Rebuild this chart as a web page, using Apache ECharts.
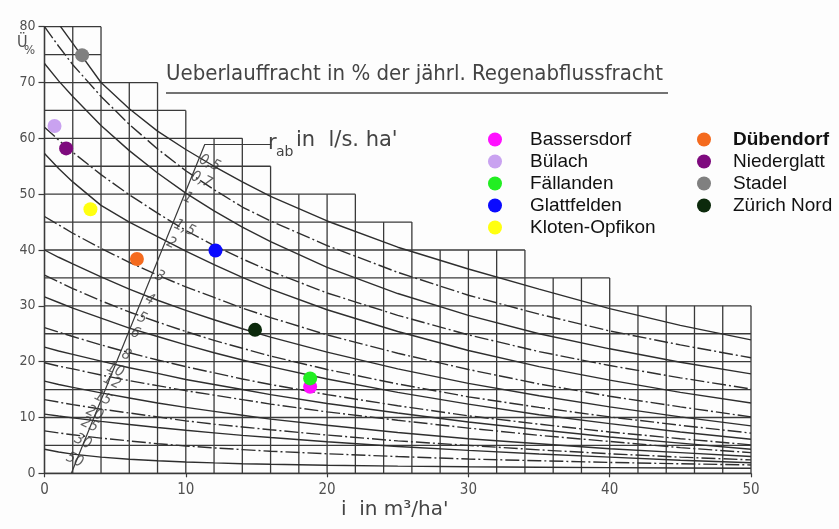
<!DOCTYPE html>
<html>
<head>
<meta charset="utf-8">
<script src="https://cdn.jsdelivr.net/npm/echarts@6/dist/echarts.min.js"></script>
<style>
html,body{margin:0;padding:0;background:#fdfdfd;}
#chart{width:839px;height:529px;}
</style>
</head>
<body>
<div id="chart"></div>
<script>
// Storage volume i (m3/ha') at which every curve is sampled
const iValues = [0, 1, 2, 4, 6, 8, 10, 12, 14, 16, 20, 25, 30, 35, 40, 45, 50];

// Overflow load Ü (%) for each throttled outflow r_ab (l/s.ha')
const curve_0_5 = [84, 80.5, 77, 70, 65.3, 61.3, 58, 55, 52.2, 49.6, 45.2, 40.5, 36.6, 33, 29.5, 26.5, 23.9];
const curve_0_7 = [80, 76.5, 73.2, 67.5, 62.5, 58.1, 54.2, 50.8, 47.7, 45.2, 40.8, 36, 31.9, 28.5, 25.5, 23, 20.7];
const curve_1   = [73.4, 70.3, 67.5, 62.3, 57.8, 53.8, 50.2, 47.0, 44.1, 41.5, 36.9, 32.2, 28.3, 25.0, 22.3, 19.9, 17.8];
const curve_1_5 = [62, 59.7, 57.5, 53.5, 49.9, 46.6, 43.5, 40.8, 38.4, 36.2, 32.3, 28.3, 24.8, 21.8, 19.3, 17.1, 15.1];
const curve_2   = [57.3, 54.6, 52.2, 48, 45, 42.4, 39.8, 37.4, 35.1, 33.0, 29.3, 25.4, 22.0, 19.1, 16.7, 14.5, 12.6];
const curve_3   = [46, 44.5, 43.0, 40.3, 37.8, 35.5, 33.4, 31.5, 29.6, 27.9, 24.8, 21.5, 18.6, 16.0, 13.8, 11.9, 10.1];
const curve_4   = [40, 38.7, 37.5, 35.2, 33.0, 31.0, 29.2, 27.5, 25.9, 24.4, 21.7, 18.7, 16.1, 13.9, 11.9, 10.1, 8.5];
const curve_5   = [35.5, 34.3, 33.1, 30.9, 28.9, 27.1, 25.4, 23.8, 22.4, 21.0, 18.6, 16.0, 13.7, 11.8, 10.1, 8.6, 7.2];
const curve_6   = [31.6, 30.6, 29.6, 27.8, 26.0, 24.5, 23.0, 21.6, 20.3, 19.1, 16.9, 14.5, 12.4, 10.5, 8.9, 7.4, 6.1];
const curve_8   = [26.1, 25.3, 24.5, 23.0, 21.6, 20.3, 19.1, 18.0, 16.9, 15.9, 14.1, 12.1, 10.3, 8.8, 7.4, 6.2, 5.1];
const curve_10  = [22.6, 21.9, 21.3, 20.1, 18.9, 17.9, 16.8, 15.9, 15.0, 14.1, 12.5, 10.8, 9.2, 7.8, 6.5, 5.4, 4.3];
const curve_12  = [19.8, 19.2, 18.7, 17.6, 16.6, 15.7, 14.8, 14.0, 13.2, 12.4, 11.0, 9.5, 8.1, 6.8, 5.7, 4.6, 3.7];
const curve_15  = [16.5, 15.9, 15.4, 14.4, 13.5, 12.6, 11.8, 11.1, 10.4, 9.7, 8.6, 7.3, 6.2, 5.3, 4.4, 3.7, 3.0];
const curve_20  = [13.2, 12.75, 12.3, 11.5, 10.8, 10.1, 9.4, 8.8, 8.3, 7.8, 6.85, 5.8, 5.0, 4.2, 3.5, 2.9, 2.4];
const curve_25  = [10.6, 10.26, 9.93, 9.3, 8.75, 8.2, 7.7, 7.25, 6.8, 6.4, 5.65, 4.8, 4.1, 3.45, 2.9, 2.35, 1.9];
const curve_30  = [7.6, 7.23, 6.9, 6.3, 5.8, 5.3, 4.9, 4.55, 4.25, 3.95, 3.5, 3.0, 2.55, 2.25, 1.95, 1.7, 1.5];
const curve_50  = [4.3, 3.82, 3.44, 2.89, 2.51, 2.24, 2.02, 1.86, 1.72, 1.61, 1.43, 1.28, 1.16, 1.08, 1.01, 0.95, 0.9];

const rabLabels = ['0,5', '0,7', '1', '1,5', '2', '3', '4', '5', '6', '8', '10', '12', '15', '20', '25', '30', '50'];
const rabCurves = [curve_0_5, curve_0_7, curve_1, curve_1_5, curve_2, curve_3, curve_4, curve_5, curve_6,
                   curve_8, curve_10, curve_12, curve_15, curve_20, curve_25, curve_30, curve_50];

// Where each r_ab figure sits along the oblique scale line
const rabLabelI = [11.69, 11.10, 10.16, 9.92, 8.97, 8.15, 7.45, 6.90, 6.43, 5.79, 5.01, 4.78, 4.14, 3.55, 3.20, 2.72, 2.14];
const rabLabelU = [55.56, 52.56, 49.28, 43.91, 41.22, 35.23, 31.06, 27.78, 25.09, 21.20, 18.51, 16.42, 13.44, 10.75, 8.66, 5.66, 2.38];

// Oblique r_ab scale line with its leader to the caption
const rabScaleLine = [[1.9, 0], [11.34, 58.9], [16.05, 58.9]];

// Stepped outline of the chart grid: column edges and their heights
const stepEdges = [0, 4, 8, 10, 14, 16, 22, 26, 34, 40, 50];
const stepTops  = [80, 70, 65, 60, 55, 50, 45, 40, 35, 30];

// Overflow structures in the Glatt catchment
const siteNames  = ['Bassersdorf', 'Bülach', 'Fällanden', 'Glattfelden', 'Kloten-Opfikon', 'Dübendorf', 'Niederglatt', 'Stadel', 'Zürich Nord'];
const siteI      = [18.8, 0.71, 18.8, 12.1, 3.25, 6.54, 1.53, 2.66, 14.9];
const siteU      = [15.5, 62.2, 17.0, 39.9, 47.3, 38.4, 58.2, 74.9, 25.7];
const siteColors = ['#ff10ff', '#c9a2f0', '#22ee22', '#0a0aff', '#ffff10', '#f46a1e', '#7e0a7e', '#808080', '#0c2a0c'];

const ink = '#3a3a3a';

function topAt(x) {
  let t = 0;
  for (let k = 0; k < stepTops.length; k++) {
    if (x >= stepEdges[k] - 1e-9 && x <= stepEdges[k + 1] + 1e-9) t = Math.max(t, stepTops[k]);
  }
  return t;
}
function reachAt(y) {
  let r = 0;
  for (let k = 0; k < stepTops.length; k++) if (stepTops[k] >= y) r = stepEdges[k + 1];
  return r;
}

const series = [];

// stepped grid
series.push({
  type: 'custom',
  silent: true,
  z: 1,
  data: [0],
  renderItem: function (params, api) {
    const children = [];
    const style = { stroke: ink, lineWidth: 1.3 };
    for (let x = 0; x <= 50; x += 2) {
      const a = api.coord([x, 0]), b = api.coord([x, topAt(x)]);
      children.push({ type: 'line', shape: { x1: a[0], y1: a[1], x2: b[0], y2: b[1] }, style: style });
    }
    for (let y = 0; y <= 80; y += 5) {
      const a = api.coord([0, y]), b = api.coord([reachAt(y), y]);
      children.push({ type: 'line', shape: { x1: a[0], y1: a[1], x2: b[0], y2: b[1] }, style: style });
    }
    return { type: 'group', children: children };
  }
});

// curve family
rabCurves.forEach(function (vals, k) {
  series.push({
    type: 'line',
    name: 'r' + rabLabels[k],
    data: iValues.map(function (x, j) { return [x, vals[j]]; }),
    showSymbol: false,
    smooth: false,
    silent: true,
    z: 2,
    clip: true,
    lineStyle: { color: '#2e2e2e', width: 1.4, type: k % 2 === 1 ? [14, 3, 2, 3] : 'solid' }
  });
});

// oblique scale line
series.push({
  type: 'line',
  data: rabScaleLine,
  showSymbol: false,
  silent: true,
  z: 2,
  lineStyle: { color: ink, width: 1.2 }
});

// r_ab figures
series.push({
  type: 'scatter',
  silent: true,
  z: 3,
  symbolSize: 0,
  data: rabLabels.map(function (t, k) { return { name: t, value: [rabLabelI[k], rabLabelU[k]] }; }),
  label: {
    show: true,
    position: 'inside',
    formatter: '{b}',
    rotate: -25,
    fontFamily: 'DejaVu Sans Condensed, DejaVu Sans',
    fontStyle: 'italic',
    fontSize: 15,
    color: '#3a3a3a'
  }
});

// site markers
siteNames.forEach(function (n, k) {
  series.push({
    type: 'scatter',
    name: n,
    z: 5,
    symbol: 'circle',
    symbolSize: 14,
    itemStyle: { color: siteColors[k], opacity: 1 },
    data: [[siteI[k], siteU[k]]]
  });
});

const legendText = {
  fontFamily: 'Liberation Sans, Arial, sans-serif',
  fontSize: 19,
  color: '#111',
  lineHeight: 19,
  rich: { b: { fontFamily: 'Liberation Sans, Arial, sans-serif', fontSize: 19, fontWeight: 'bold', color: '#111' } }
};
function legendFormatter(n) { return n === 'Dübendorf' ? '{b|' + n + '}' : n; }

const chart = echarts.init(document.getElementById('chart'), null, { renderer: 'canvas' });
chart.setOption({
  animation: false,
  backgroundColor: '#fdfdfd',
  grid: { left: 44.5, right: 88, top: 26.7, bottom: 55.7 },
  xAxis: {
    type: 'value', min: 0, max: 50, interval: 10,
    splitLine: { show: false },
    axisLine: { show: true, lineStyle: { color: ink, width: 1.3 } },
    axisTick: { show: true, length: 4, lineStyle: { color: ink, width: 1.2 } },
    axisLabel: { margin: 9, fontSize: 15, color: '#505050', fontFamily: 'DejaVu Sans Condensed, DejaVu Sans' }
  },
  yAxis: {
    type: 'value', min: 0, max: 80, interval: 10,
    splitLine: { show: false },
    axisLine: { show: true, lineStyle: { color: ink, width: 1.3 } },
    axisTick: { show: true, length: 6, lineStyle: { color: ink, width: 1.2 } },
    axisLabel: { margin: 9, fontSize: 14, color: '#505050', fontFamily: 'DejaVu Sans Condensed, DejaVu Sans', padding: [0, 0, 8, 0] }
  },
  legend: [
    {
      data: siteNames.slice(0, 5), orient: 'vertical', left: 483, top: 125,
      itemWidth: 60, itemHeight: 14, itemGap: 3, icon: 'circle',
      itemStyle: { opacity: 1 },
      textStyle: legendText, formatter: legendFormatter, selectedMode: false
    },
    {
      data: siteNames.slice(5), orient: 'vertical', left: 692, top: 125,
      itemWidth: 48, itemHeight: 14, itemGap: 3, icon: 'circle',
      itemStyle: { opacity: 1 },
      textStyle: legendText, formatter: legendFormatter, selectedMode: false
    }
  ],
  graphic: [
    { type: 'text', left: 166, top: 63, style: { text: 'Ueberlauffracht in % der jährl. Regenabflussfracht', font: '22px "DejaVu Sans Condensed", "DejaVu Sans"', fill: '#444' } },
    { type: 'line', shape: { x1: 166, y1: 93, x2: 668, y2: 93 }, style: { stroke: '#444', lineWidth: 1.3 } },
    { type: 'text', left: 17, top: 35, style: { text: 'Ü', font: '16px "DejaVu Sans Condensed", "DejaVu Sans"', fill: '#505050' } },
    { type: 'text', left: 24, top: 44, style: { text: '%', font: '13px "DejaVu Sans Condensed", "DejaVu Sans"', fill: '#505050' } },
    { type: 'text', left: 268, top: 133, style: { text: 'r', font: '21px "DejaVu Sans"', fill: '#444' } },
    { type: 'text', left: 276, top: 145, style: { text: 'ab', font: '14px "DejaVu Sans"', fill: '#444' } },
    { type: 'text', left: 296, top: 130, style: { text: "in  l/s. ha'", font: '21px "DejaVu Sans"', fill: '#444' } },
    { type: 'text', left: 341, top: 500, style: { text: "i  in m³/ha'", font: '20px "DejaVu Sans"', fill: '#444' } }
  ],
  series: series
});
</script>
</body>
</html>
